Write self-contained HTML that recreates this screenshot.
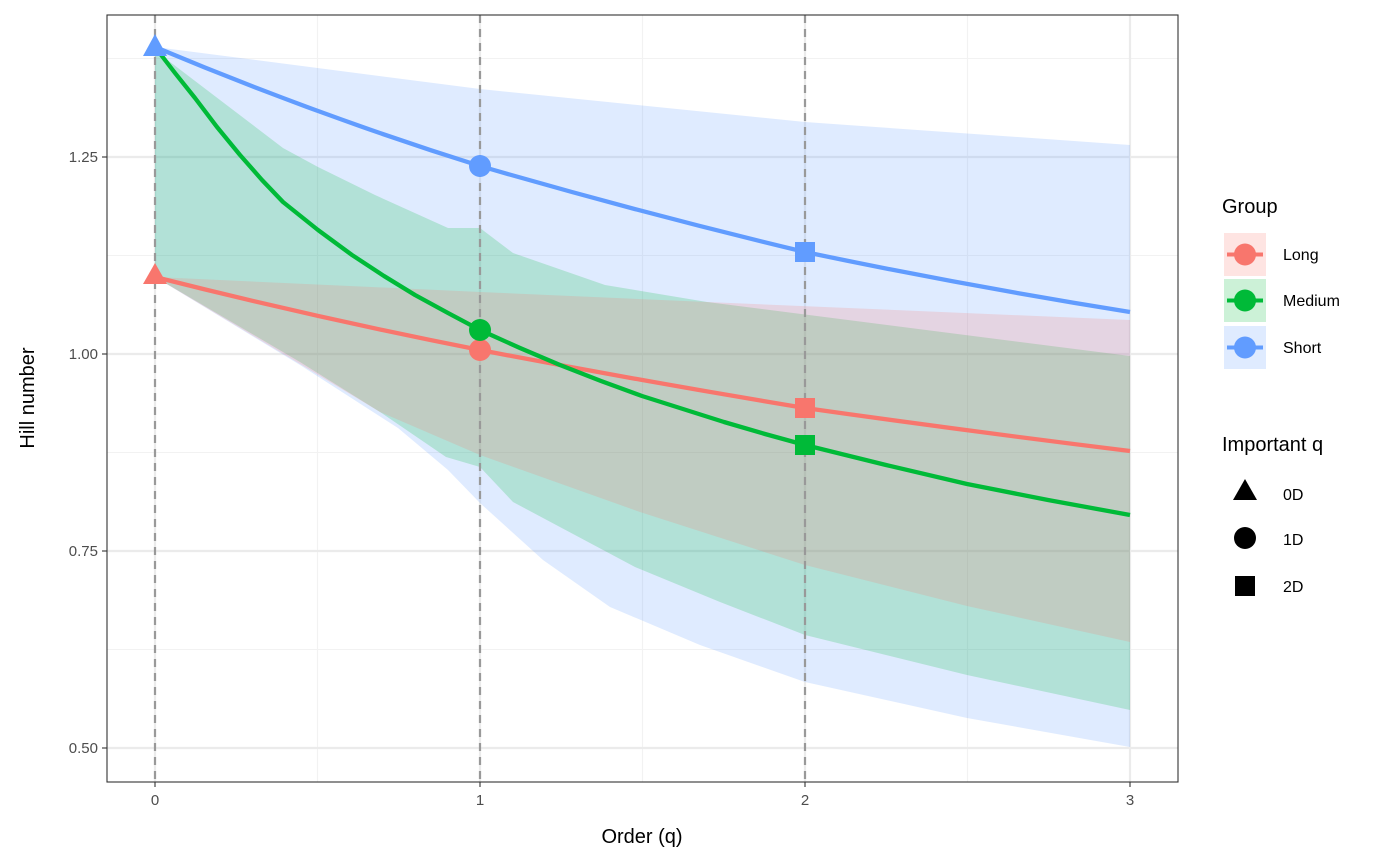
<!DOCTYPE html>
<html><head><meta charset="utf-8"><style>
html,body{margin:0;padding:0;background:#fff}
svg{display:block}
text{font-family:"Liberation Sans",sans-serif}
</style></head><body>
<svg width="1400" height="866" viewBox="0 0 1400 866" xmlns="http://www.w3.org/2000/svg">
<rect x="0" y="0" width="1400" height="866" fill="#fff"/>
<g stroke="#f2f2f2" stroke-width="1.1">
<line x1="107" x2="1178" y1="58.5" y2="58.5"/>
<line x1="107" x2="1178" y1="255.5" y2="255.5"/>
<line x1="107" x2="1178" y1="452.5" y2="452.5"/>
<line x1="107" x2="1178" y1="649.5" y2="649.5"/>
<line y1="15" y2="782" x1="317.5" x2="317.5"/>
<line y1="15" y2="782" x1="642.5" x2="642.5"/>
<line y1="15" y2="782" x1="967.5" x2="967.5"/>
</g>
<g stroke="#ebebeb" stroke-width="2.2">
<line x1="107" x2="1178" y1="157" y2="157"/>
<line x1="107" x2="1178" y1="354" y2="354"/>
<line x1="107" x2="1178" y1="551" y2="551"/>
<line x1="107" x2="1178" y1="748" y2="748"/>
<line y1="15" y2="782" x1="155" x2="155"/>
<line y1="15" y2="782" x1="480" x2="480"/>
<line y1="15" y2="782" x1="805" x2="805"/>
<line y1="15" y2="782" x1="1130" x2="1130"/>
</g>
<polygon fill="#619CFF" fill-opacity="0.2" points="155,47 480,89 805,122 1130,145 1130,747 967,718 805,682 700,645 610,607 543,560 480,503 448,470 398,428 300,365 155,277"/>
<polygon fill="#00BA38" fill-opacity="0.2" points="155,47 157,52 220,100 283,148 318,167 375,195 448,228 480,228 513,253 605,285 707,302 1130,356 1130,710 967,675 805,635 720,602 635,567 513,502 480,467 446,457 380,412 300,362 155,277"/>
<polygon fill="#F8766D" fill-opacity="0.2" points="155,277 480,292 707,302 1130,320 1130,642 967,606 805,565 640,512 480,455 380,412 155,277"/>
<g stroke="#999" stroke-width="2.2" stroke-dasharray="8,6">
<line x1="155" x2="155" y1="15" y2="782"/>
<line x1="480" x2="480" y1="15" y2="782"/>
<line x1="805" x2="805" y1="15" y2="782"/>
</g>
<g fill="none" stroke-width="4.3" stroke-linejoin="round">
<path stroke="#F8766D" d="M155,277 Q317,318 480,350 Q642,381 805,408 Q967,431 1130,451"/>
<polyline stroke="#00BA38" points="155,47 175,73 195,98 217,127 240,155 262,180 283,202 318,230 352,255 384,276 415,295 448,313 480,330 520,348 560,365 601,381 642,396 683,409 724,422 765,434 805,445 886,465 967,484 1048,500 1130,515"/>
<path stroke="#619CFF" d="M155,47 Q317,115 480,166 Q642,213 805,252 Q967,286 1130,312"/>
</g>
<polygon fill="#F8766D" points="155,263 143,284 167,284"/>
<polygon fill="#619CFF" points="155,34 143,56 167,56"/>
<circle cx="480" cy="350" r="11" fill="#F8766D"/>
<circle cx="480" cy="330" r="11" fill="#00BA38"/>
<circle cx="480" cy="166" r="11" fill="#619CFF"/>
<rect x="795" y="398" width="20" height="20" fill="#F8766D"/>
<rect x="795" y="435" width="20" height="20" fill="#00BA38"/>
<rect x="795" y="242" width="20" height="20" fill="#619CFF"/>
<rect x="107" y="15" width="1071" height="767" fill="none" stroke="#333" stroke-width="1.1"/>
<g stroke="#333" stroke-width="1.1">
<line x1="102" x2="107" y1="157" y2="157"/><line x1="102" x2="107" y1="354" y2="354"/>
<line x1="102" x2="107" y1="551" y2="551"/><line x1="102" x2="107" y1="748" y2="748"/>
<line y1="782" y2="787" x1="155" x2="155"/><line y1="782" y2="787" x1="480" x2="480"/>
<line y1="782" y2="787" x1="805" x2="805"/><line y1="782" y2="787" x1="1130" x2="1130"/>
</g>
<g fill="#4d4d4d" font-size="15" text-anchor="end">
<text x="98" y="162">1.25</text><text x="98" y="359">1.00</text>
<text x="98" y="556">0.75</text><text x="98" y="753">0.50</text>
</g>
<g fill="#4d4d4d" font-size="15" text-anchor="middle">
<text x="155" y="805">0</text><text x="480" y="805">1</text>
<text x="805" y="805">2</text><text x="1130" y="805">3</text>
</g>
<text x="642" y="843" font-size="20" text-anchor="middle">Order (q)</text>
<text transform="translate(34,398) rotate(-90)" font-size="20" text-anchor="middle">Hill number</text>
<text x="1222" y="213" font-size="20">Group</text>
<rect x="1224" y="233" width="42" height="43" fill="#F8766D" fill-opacity="0.2"/>
<rect x="1224" y="279" width="42" height="43" fill="#00BA38" fill-opacity="0.2"/>
<rect x="1224" y="326" width="42" height="43" fill="#619CFF" fill-opacity="0.2"/>
<line x1="1227" x2="1263" y1="254.5" y2="254.5" stroke="#F8766D" stroke-width="4"/>
<line x1="1227" x2="1263" y1="300.5" y2="300.5" stroke="#00BA38" stroke-width="4"/>
<line x1="1227" x2="1263" y1="347.5" y2="347.5" stroke="#619CFF" stroke-width="4"/>
<circle cx="1245" cy="254.5" r="11" fill="#F8766D"/>
<circle cx="1245" cy="300.5" r="11" fill="#00BA38"/>
<circle cx="1245" cy="347.5" r="11" fill="#619CFF"/>
<g font-size="16">
<text x="1283" y="260">Long</text><text x="1283" y="306">Medium</text><text x="1283" y="353">Short</text>
</g>
<text x="1222" y="451" font-size="20">Important q</text>
<polygon points="1245,479 1233,500 1257,500"/>
<circle cx="1245" cy="538" r="11"/>
<rect x="1235" y="576" width="20" height="20"/>
<g font-size="16">
<text x="1283" y="500">0D</text><text x="1283" y="545">1D</text><text x="1283" y="592">2D</text>
</g>
</svg>
</body></html>
